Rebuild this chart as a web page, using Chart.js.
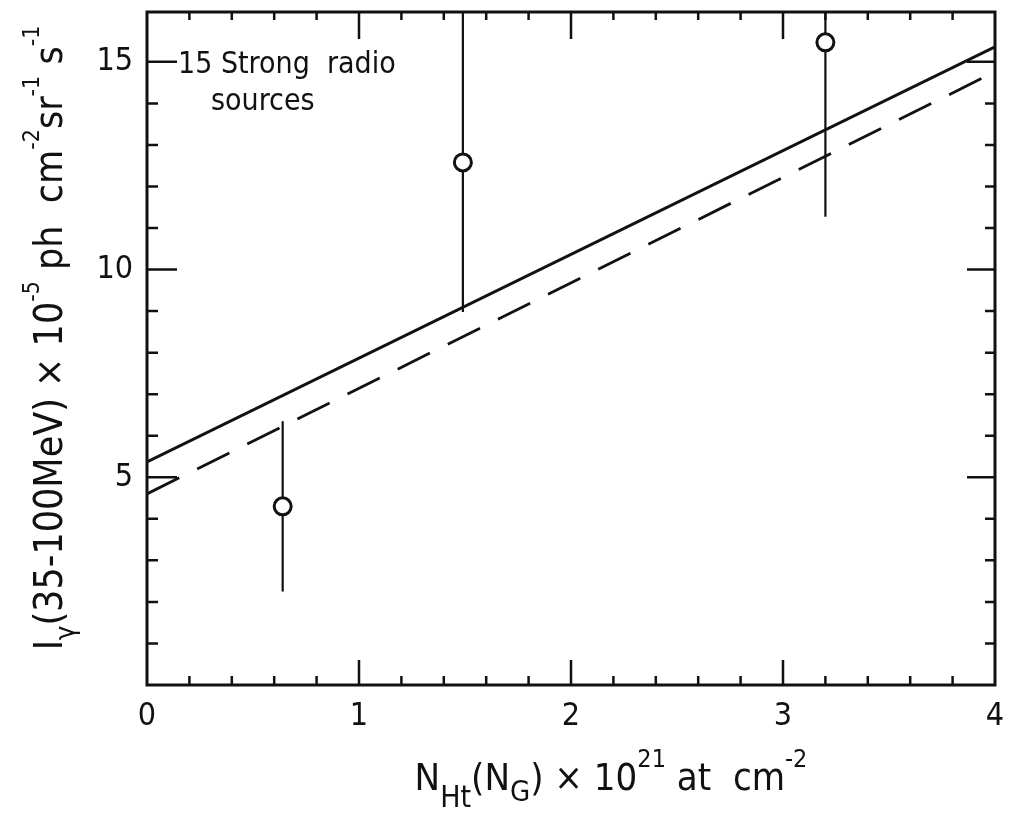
<!DOCTYPE html>
<html>
<head>
<meta charset="utf-8">
<script src="https://cdn.jsdelivr.net/npm/chart.js@4"></script>
<style>
  body { margin: 0; background: #fff; }
  canvas { display: block; }
</style>
</head>
<body>
<canvas id="chart" width="1011" height="831"></canvas>
<script>
// data
const pointX = [0.64, 1.49, 3.2]
const pointY = [4.3, 12.58, 15.47]
const pointErr = [2.05, 3.6, 4.2]
const fitX = [0, 4]
const solidFitY = [5.37, 15.36]
const dashedFitY = [4.6, 14.76]
const xTickLabels = ['0', '1', '2', '3', '4']
const yTickLabels = ['5', '10', '15']

const INK = '#111'
const FONT = "'Liberation Sans Narrow', 'DejaVu Sans Condensed', sans-serif"

// error bars, one small line dataset each
const errorSets = pointX.map((x, i) => ({
  type: 'scatter',
  showLine: true,
  data: [{ x: x, y: pointY[i] - pointErr[i] }, { x: x, y: pointY[i] + pointErr[i] }],
  borderColor: INK,
  borderWidth: 2.2,
  pointRadius: 0,
  order: 1
}))

const datasets = [
  {
    label: 'fit',
    showLine: true,
    data: fitX.map((x, i) => ({ x: x, y: solidFitY[i] })),
    borderColor: INK,
    borderWidth: 3,
    pointRadius: 0,
    order: 2
  },
  {
    label: 'fit dashed',
    showLine: true,
    data: fitX.map((x, i) => ({ x: x, y: dashedFitY[i] })),
    borderColor: INK,
    borderWidth: 2.8,
    borderDash: [36, 20],
    pointRadius: 0,
    order: 2
  },
  ...errorSets,
  {
    label: 'sources',
    data: pointX.map((x, i) => ({ x: x, y: pointY[i] })),
    backgroundColor: '#fff',
    borderColor: INK,
    borderWidth: 3,
    pointRadius: 8.5,
    order: 0
  }
]

// text with sub / superscripts: runs of {t, s (size factor), dy (em offset)}
function drawRuns(ctx, runs, cx, baseY, size) {
  let total = 0
  for (const r of runs) {
    ctx.font = `${Math.round(size * (r.s || 1))}px ${FONT}`
    r.w = ctx.measureText(r.t).width
    total += r.w
  }
  let x = cx - total / 2
  ctx.textAlign = 'left'
  ctx.textBaseline = 'alphabetic'
  for (const r of runs) {
    ctx.font = `${Math.round(size * (r.s || 1))}px ${FONT}`
    ctx.fillText(r.t, x, baseY + (r.dy || 0) * size)
    x += r.w
  }
}

const yTitle = [
  { t: 'I' },
  { t: 'γ', s: 0.7, dy: 0.3 },
  { t: '(35-100MeV) × 10' },
  { t: '-5', s: 0.6, dy: -0.6 },
  { t: ' ph  cm' },
  { t: '-2', s: 0.6, dy: -0.6 },
  { t: 'sr' },
  { t: '-1', s: 0.6, dy: -0.6 },
  { t: ' s' },
  { t: '-1', s: 0.6, dy: -0.6 }
]
const xTitle = [
  { t: 'N' },
  { t: 'Ht', s: 0.8, dy: 0.45 },
  { t: '(N' },
  { t: 'G', s: 0.75, dy: 0.3 },
  { t: ') × 10' },
  { t: '21', s: 0.65, dy: -0.6 },
  { t: ' at  cm' },
  { t: '-2', s: 0.65, dy: -0.6 }
]

const framePlugin = {
  id: 'frame',
  afterDraw(chart) {
    const ctx = chart.ctx
    const a = chart.chartArea
    const xs = chart.scales.x
    const ys = chart.scales.y
    ctx.save()
    ctx.strokeStyle = INK
    ctx.fillStyle = INK
    ctx.lineWidth = 3
    ctx.strokeRect(a.left, a.top, a.right - a.left, a.bottom - a.top)

    // inward ticks on all four sides
    ctx.lineWidth = 2.5
    ctx.beginPath()
    for (let k = 1; k < 20; k++) {
      const v = k / 5
      const px = xs.getPixelForValue(v)
      const major = k % 5 === 0
      ctx.moveTo(px, a.bottom)
      ctx.lineTo(px, a.bottom - (major ? 25 : 9))
      ctx.moveTo(px, a.top)
      ctx.lineTo(px, a.top + (major ? 27 : 8))
    }
    for (let v = 1; v <= 15; v++) {
      const py = ys.getPixelForValue(v)
      const major = v % 5 === 0
      ctx.moveTo(a.left, py)
      ctx.lineTo(a.left + (major ? 30 : 11), py)
      ctx.moveTo(a.right, py)
      ctx.lineTo(a.right - (major ? 28 : 10), py)
    }
    ctx.stroke()

    // label inside the frame
    ctx.font = `30px ${FONT}`
    ctx.textAlign = 'left'
    ctx.textBaseline = 'alphabetic'
    ctx.fillText('15 Strong  radio', 178, 73)
    ctx.fillText('sources', 211, 110)

    // axis titles
    drawRuns(ctx, xTitle, 611, 790, 38)
    ctx.translate(62, 338)
    ctx.rotate(-Math.PI / 2)
    drawRuns(ctx, yTitle, 0, 0, 39)
    ctx.restore()
  }
}

new Chart(document.getElementById('chart').getContext('2d'), {
  type: 'scatter',
  data: { datasets: datasets },
  options: {
    responsive: false,
    animation: false,
    layout: { padding: { top: 12, right: 16, left: 0, bottom: 0 } },
    plugins: {
      legend: { display: false },
      tooltip: { enabled: false }
    },
    scales: {
      x: {
        type: 'linear',
        min: 0,
        max: 4,
        grid: { display: false, drawTicks: false },
        border: { display: false },
        afterFit: s => {
          s.height = 146
          s.paddingLeft = 0
          s.paddingRight = 0
        },
        ticks: {
          stepSize: 1,
          padding: 12,
          color: INK,
          font: { family: FONT, size: 32 },
          callback: v => xTickLabels[v] || ''
        }
      },
      y: {
        type: 'linear',
        min: 0,
        max: 16.2,
        grid: { display: false, drawTicks: false },
        border: { display: false },
        afterFit: s => {
          s.width = 147
          s.paddingTop = 0
          s.paddingBottom = 0
        },
        ticks: {
          stepSize: 5,
          padding: 14,
          color: INK,
          font: { family: FONT, size: 32 },
          callback: v => (yTickLabels.includes(String(v)) ? String(v) : '')
        }
      }
    }
  },
  plugins: [framePlugin]
})
</script>
</body>
</html>
